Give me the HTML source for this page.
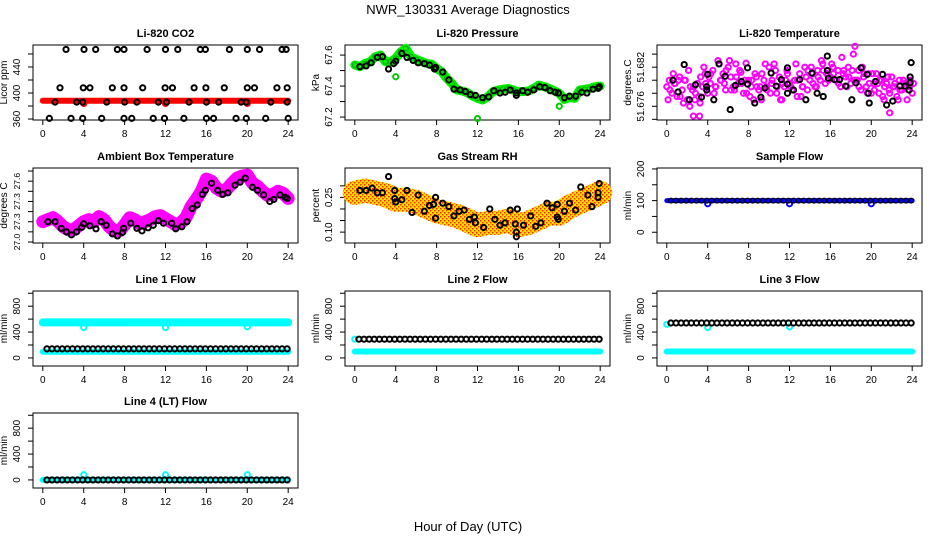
<!DOCTYPE html>
<html><head><meta charset="utf-8"><style>
html,body{margin:0;padding:0;background:#fff;}
svg{display:block;font-family:"Liberation Sans",sans-serif;}
</style></head><body>
<svg id="chart" width="936" height="540" viewBox="0 0 936 540">
<defs>
<pattern id="rhpat" width="4" height="4" patternUnits="userSpaceOnUse">
<rect width="4" height="4" fill="#ffe000"/><rect width="1.5" height="1.5" fill="#ff2000"/><rect x="2" y="2" width="1.5" height="1.5" fill="#ff3000"/>
</pattern>
</defs>
<text x="468" y="14" text-anchor="middle" font-size="13">NWR_130331  Average Diagnostics</text>
<text x="468" y="531" text-anchor="middle" font-size="13">Hour of Day (UTC)</text>
</svg>
<script>
// ---------- data ----------
const xTicks=[0,4,8,12,16,20,24];
// CO2
const co2BandTime=[0,24];
const co2BandVal=[388,388];
const co2RedDipTime=[4,12,20];
const co2RedDipVal=[384,384,384];
const co2BlackTime=[2.27,4.03,5.17,7.29,7.94,10.2,12.0,13.2,15.4,15.9,18.25,20.0,21.2,23.4,23.8,
1.68,3.96,4.61,6.8,7.94,9.77,11.96,12.68,14.8,15.95,17.75,20.0,20.7,22.9,23.9,
1.19,3.31,3.9,6.25,8.0,9.2,11.3,12.1,14.3,16.0,17.2,19.4,19.9,22.3,23.9,
0.64,2.76,3.9,5.76,7.94,8.7,10.8,11.9,13.8,16.0,16.7,18.9,19.9,21.8,24.0];
const co2BlackVal=[467,467,467,467,467,467,467,467,467,467,467,467,467,467,467,
408,408,408,408,408,408,408,408,408,408,408,408,408,408,408,
386,386,386,386,386,386,386,386,386,386,386,386,386,386,386,
361,361,361,361,361,361,361,361,361,361,361,361,361,361,361];
// Pressure
const presGreen=[67.536,67.525,67.546,67.557,67.589,67.600,67.557,67.557,67.579,67.621,67.643,67.589,67.572,67.560,67.546,67.542,67.514,67.492,67.450,67.417,67.374,67.368,67.357,67.336,67.321,67.310,67.331,67.363,67.374,67.380,67.385,67.374,67.363,67.365,67.368,67.385,67.406,67.396,67.385,67.370,67.353,67.314,67.327,67.321,67.374,67.379,67.385,67.396,67.400];
const presOutTime=[4,12,20];
const presOutVal=[67.46,67.19,67.27];
const presBlackTime=[0.5,1.1,1.6,2.2,2.7,3.3,3.8,4.0,4.6,5.1,5.7,6.2,6.8,7.3,7.8,7.9,8.6,9.2,9.7,10.3,10.8,11.3,11.8,12.5,13.1,13.6,14.2,14.7,15.2,15.8,15.8,16.4,16.9,17.5,18.1,18.6,19.1,19.6,19.9,20.5,21.0,21.6,22.2,22.7,23.3,23.8,23.9];
const presBlackVal=[67.525,67.53,67.55,67.585,67.59,67.51,67.545,67.56,67.61,67.585,67.565,67.55,67.545,67.535,67.51,67.52,67.49,67.44,67.38,67.375,67.365,67.345,67.34,67.325,67.33,67.37,67.355,67.36,67.375,67.34,67.355,67.37,67.36,67.375,67.395,67.39,67.37,67.36,67.355,67.325,67.335,67.335,67.36,67.355,67.38,67.385,67.395];
// Li-820 temperature
const tempMagA=[51.6790,51.6800,51.6780,51.6795,51.6775,51.6805,51.6785,51.6800,51.6770,
51.6760,51.6785,51.6770,51.6795,51.6765,51.6790,51.6810,51.6780,
51.6795,51.6815,51.6790,51.6830,51.6800,51.6810,51.6785,51.6820,
51.6805,51.6790,51.6825,51.6795,51.6812,51.6780,51.6826,51.6800,
51.6790,51.6770,51.6805,51.6785,51.6770,51.6800,51.6790,51.6820,
51.6795,51.6825,51.6780,51.6805,51.6770,51.6790,51.6815,51.6795,
51.6785,51.6800,51.6775,51.6810,51.6790,51.6820,51.6785,51.6800,
51.6810,51.6790,51.6815,51.6800,51.6825,51.6795,51.6810,51.6805,
51.6820,51.6800,51.6815,51.6790,51.6810,51.6805,51.6820,51.6795,
51.6840,51.6800,51.6815,51.6785,51.6805,51.6790,51.6810,51.6780,
51.6795,51.6810,51.6780,51.6800,51.6770,51.6795,51.6785,51.6805,
51.6790,51.6775,51.6800,51.6785,51.6795,51.6770,51.6790,51.6780];
const tempMagB=[51.6770,51.6810,51.6800,51.6765,51.6815,51.6790,51.6775,51.6820,51.6805,51.6780,51.6825,51.6795,51.6830,51.6785,51.6815,51.6800,51.6775,51.6810,51.6790,51.6825,51.6780,51.6815,51.6770,51.6800,51.6790,51.6825,51.6775,51.6805,51.6820,51.6790,51.6830,51.6810,51.6825,51.6800,51.6835,51.6790,51.6815,51.6800,51.6820,51.6780,51.6810,51.6795,51.6775,51.6805,51.6790,51.6770,51.6800,51.6785,51.6795];
const tempMagC=[51.6785,51.6795,51.6775,51.6800,51.6790,51.6780,51.6805,51.6795,51.6810,51.6790,51.6800,51.6815,51.6785,51.6805,51.6795,51.6780,51.6800,51.6790,51.6810,51.6785,51.6800,51.6790,51.6795,51.6810,51.6785,51.6800,51.6790,51.6815,51.6795,51.6805,51.6815,51.6800,51.6810,51.6795,51.6815,51.6805,51.6800,51.6790,51.6810,51.6795,51.6785,51.6800,51.6790,51.6780,51.6795,51.6785,51.6790,51.6800];
const tempOutTime=[18.4,2.6,3.2,21.8];
const tempOutVal=[51.6852,51.6745,51.6745,51.6750];
const tempBlackTime=[0.6,1.1,1.7,2.2,2.8,3.4,3.9,3.9,4.0,4.6,5.1,5.7,6.2,6.7,7.3,7.9,7.9,8.6,9.2,9.6,10.2,10.7,11.2,11.8,11.8,11.8,12.4,13.0,13.6,14.2,14.7,15.3,15.7,15.7,15.8,16.4,16.9,17.5,18.1,18.5,19.0,19.6,19.7,19.8,20.4,21.1,21.5,22.1,22.8,23.3,23.7,23.8,23.8,23.9];
const tempBlackVal=[51.680,51.6782,51.6824,51.677,51.6793,51.6774,51.6785,51.679,51.6809,51.677,51.6825,51.6806,51.6755,51.6792,51.6798,51.6819,51.6794,51.6765,51.6774,51.6788,51.6811,51.6791,51.6801,51.6819,51.6794,51.678,51.6785,51.6801,51.677,51.6811,51.678,51.6775,51.6837,51.6815,51.6803,51.6801,51.6801,51.6791,51.677,51.6796,51.6819,51.6809,51.678,51.6765,51.6798,51.6809,51.6762,51.6768,51.6791,51.6791,51.6785,51.6796,51.6805,51.6827];
// Ambient box temperature
const ambMag=[27.20,27.22,27.24,27.20,27.15,27.12,27.12,27.16,27.20,27.22,27.20,27.25,27.22,27.15,27.11,27.11,27.17,27.24,27.22,27.18,27.20,27.22,27.25,27.26,27.23,27.20,27.17,27.19,27.24,27.35,27.42,27.50,27.62,27.60,27.53,27.50,27.52,27.58,27.63,27.65,27.66,27.58,27.55,27.50,27.46,27.47,27.50,27.48,27.43];
const ambBlackTime=[0.5,1.2,1.8,2.3,2.8,3.3,3.8,4.0,4.6,5.2,5.7,6.2,6.8,7.3,7.8,7.9,8.6,9.2,9.7,10.3,10.8,11.3,11.8,12.6,13.0,13.6,14.1,14.6,15.1,15.6,15.9,16.5,17.1,17.6,18.1,18.8,19.3,19.8,20.5,21.0,21.6,22.2,22.6,23.2,23.7,23.9];
const ambBlackVal=[27.20,27.20,27.135,27.10,27.07,27.10,27.145,27.18,27.16,27.13,27.20,27.165,27.08,27.06,27.095,27.135,27.185,27.135,27.11,27.14,27.165,27.21,27.185,27.185,27.13,27.15,27.20,27.33,27.365,27.47,27.51,27.58,27.51,27.47,27.485,27.56,27.59,27.63,27.54,27.51,27.465,27.40,27.42,27.465,27.44,27.43];
// Gas stream RH
const rhBand=[0.27,0.28,0.27,0.26,0.24,0.24,0.23,0.21,0.19,0.18,0.17,0.15,0.13,0.14,0.14,0.15,0.13,0.14,0.16,0.18,0.18,0.21,0.23,0.25,0.27];
const rhBlackTime=[0.5,1.1,1.7,2.2,2.7,3.3,3.9,3.9,4.0,4.6,5.1,5.6,6.2,6.8,7.3,7.7,7.9,7.9,8.6,9.2,9.7,10.2,10.7,11.2,11.7,11.8,12.6,13.2,13.7,14.2,14.7,15.2,15.7,15.8,15.8,15.9,16.5,17.2,17.7,18.2,18.8,19.3,19.8,19.8,19.9,20.5,21.0,21.6,22.1,22.8,23.2,23.8,23.8,23.9];
const rhBlackVal=[0.28,0.28,0.29,0.27,0.27,0.34,0.28,0.245,0.23,0.24,0.28,0.185,0.26,0.19,0.215,0.22,0.25,0.16,0.225,0.21,0.17,0.19,0.195,0.155,0.165,0.14,0.12,0.20,0.155,0.13,0.14,0.195,0.135,0.10,0.08,0.20,0.13,0.17,0.125,0.14,0.225,0.205,0.22,0.165,0.155,0.19,0.225,0.195,0.295,0.26,0.21,0.25,0.27,0.31];
// Sample flow
const sfBandTime=[0,24];
const sfBandVal=[100,100];
const sfDipTime=[4,12,20];
const sfDipVal=[90,90,90];
// Line flows
const l1CyanHi=550, l1CyanLo=95, l1Black=140;
const l1DipTime=[4,12,20];
const l1DipVal=[470,470,480];
const l2Black=290, l2Cyan=100;
const l2CyanStartVal=[290];
const l3Black=540, l3Cyan=100;
const l3CyanOutTime=[0,4,12];
const l3CyanOutVal=[520,470,480];
const l4Black=0, l4Cyan=0;
const l4CyanOutTime=[4,12,20];
const l4CyanOutVal=[80,80,80];

// ---------- layout ----------
const svg=document.getElementById('chart');
const NS='http://www.w3.org/2000/svg';
function mk(tag,attrs,parent){const e=document.createElementNS(NS,tag);for(const k in attrs)e.setAttribute(k,attrs[k]);(parent||svg).appendChild(e);return e;}
const W=265,H=75;
const colX=[33,345,657], rowY=[45,168,291,413];
function panel(name,title,ylab,c,r,ymin,ymax,ticks,labels,labelText,lfs){
  const p={x:colX[c],y:rowY[r],w:W,h:H,ymin:ymin,ymax:ymax};
  const g=mk('g',{});
  
  
  p.g=g;
  const t=mk('text',{x:p.x+W/2,y:p.y-8,'text-anchor':'middle','font-size':11,'font-weight':'bold'},g);
  t.textContent=title;
  
  
  const yt=mk('text',{x:p.x-26,y:p.y+H/2,'text-anchor':'middle','font-size':10,transform:`rotate(-90 ${p.x-26} ${p.y+H/2})`},g);
  yt.textContent=ylab;
  
  
  const fr=mk('rect',{x:p.x,y:p.y,width:W,height:H,fill:'none',stroke:'#000','stroke-width':1},g);
  
  
  xTicks.forEach(h=>{const X=xs(p,h);
    mk('line',{x1:X,x2:X,y1:p.y+H,y2:p.y+H+5,stroke:'#000'},g);
    const tl=mk('text',{x:X,y:p.y+H+17,'text-anchor':'middle','font-size':10},g);
    tl.textContent=h;
    
    
  });
  ticks.forEach(v=>{const Y=ys(p,v);mk('line',{x1:p.x-5,x2:p.x,y1:Y,y2:Y,stroke:'#000'},g);});
  labels.forEach((v,i)=>{const Y=ys(p,v),X=p.x-13;
    const tl=mk('text',{x:X,y:Y,'text-anchor':'middle','font-size':lfs||10,transform:`rotate(-90 ${X} ${Y})`},g);
    tl.textContent=labelText[i];
    
    
  });
  const clip=mk('g',{},g);
  p.pg=clip;
  return p;
}
function xs(p,h){return p.x+(h+0.96)/25.92*p.w;}
function ys(p,v){return p.y+p.h-(v-p.ymin)/(p.ymax-p.ymin)*p.h;}
function band(p,times,vals,color,width,name){
  const pts=times.map((t,i)=>xs(p,t).toFixed(1)+','+ys(p,vals[i]).toFixed(1)).join(' ');
  const l=mk('polyline',{points:pts,fill:'none',stroke:color,'stroke-width':width,'stroke-linejoin':'round','stroke-linecap':'round'},p.pg);
  
  
}
function pts(p,times,vals,color,name,r,sw){
  times.forEach((t,i)=>{
    const c=mk('circle',{cx:xs(p,t),cy:ys(p,vals[i]),r:r||2.6,fill:'none',stroke:color,'stroke-width':sw||2},p.pg);
    
    
  });
}
const half=[];for(let i=0;i<=48;i++)half.push(i*0.5);
const blackHalf=[];for(let i=1;i<=48;i++)blackHalf.push(i*0.5-0.1);
function constArr(n,v){return new Array(n).fill(v);}

// CO2
let p=panel('co2','Li-820 CO2','Licor ppm',0,0,358.5,473.8,[360,380,400,420,440,460],[360,400,440],['360','400','440']);
band(p,co2BandTime,co2BandVal,'#ff0000',6,'co2-red-band');
pts(p,co2RedDipTime,co2RedDipVal,'#ff0000','co2-red-point');
pts(p,co2BlackTime,co2BlackVal,'#000','co2-black-point');
// Pressure
p=panel('pressure','Li-820 Pressure','kPa',1,0,67.181,67.665,[67.2,67.3,67.4,67.5,67.6],[67.2,67.4,67.6],['67.2','67.4','67.6']);
band(p,half,presGreen,'#00ee00',9,'pressure-green-band');
pts(p,half,presGreen,'#009900','pressure-green-point',2.4,0.8);
pts(p,presOutTime,presOutVal,'#00cc00','pressure-green-outlier');
pts(p,presBlackTime,presBlackVal,'#000','pressure-black-point');
// Temperature
p=panel('li820-temp','Li-820 Temperature','degrees.C',2,0,51.6739,51.6854,[51.674,51.676,51.678,51.680,51.682,51.684],[51.676,51.682],['51.676','51.682']);
const tA=tempMagA.map((v,i)=>i*0.25), tB=tempMagB.map((v,i)=>i*0.5+0.125), tC=tempMagC.map((v,i)=>i*0.5+0.3);
pts(p,tA,tempMagA,'#ff00ff','temp-magenta-point');
pts(p,tB,tempMagB,'#ff00ff','temp-magenta-point');
pts(p,tC,tempMagC,'#ff00ff','temp-magenta-point');
pts(p,tempOutTime,tempOutVal,'#ff00ff','temp-magenta-outlier');
pts(p,tempBlackTime,tempBlackVal,'#000','temp-black-point');
// Ambient
p=panel('ambient-temp','Ambient Box Temperature','degrees C',0,1,26.99,27.73,[27.0,27.1,27.2,27.3,27.4,27.5,27.6,27.7],[27.0,27.2,27.4,27.6],['27.0','27.3','27.3','27.6'],8.5);
band(p,half,ambMag,'#ff00ff',13,'ambient-magenta-band');
pts(p,ambBlackTime,ambBlackVal,'#000','ambient-black-point');
// RH
p=panel('rh','Gas Stream RH','percent',1,1,0.053,0.377,[0.10,0.15,0.20,0.25,0.30],[0.10,0.25],['0.10','0.25']);
const hours=rhBand.map((v,i)=>i);
band(p,hours,rhBand,'url(#rhpat)',24,'rh-orange-band');
pts(p,rhBlackTime,rhBlackVal,'#000','rh-black-point');
// Sample flow
p=panel('sample-flow','Sample Flow','ml/min',2,1,-34,203,[0,50,100,150,200],[0,100,200],['0','100','200']);
band(p,sfBandTime,sfBandVal,'#0000ff',5,'sample-flow-blue-band');
pts(p,sfDipTime,sfDipVal,'#0000ff','sample-flow-blue-point');
pts(p,blackHalf,constArr(48,100),'#000','sample-flow-black-point',2.4,1.2);
// Line flows
const fT=[0,200,400,600,800,1000],fL=[0,400,800],fLT=['0','400','800'];
p=panel('line1-flow','Line 1 Flow','ml/min',0,2,-125,1035,fT,fL,fLT);
band(p,[0,24],[l1CyanHi,l1CyanHi],'#00ffff',8,'line1-cyan-band');
band(p,[0,24],[l1CyanLo,l1CyanLo],'#00ffff',6,'line1-cyan-low-band');
pts(p,l1DipTime,l1DipVal,'#00ffff','line1-cyan-point');
pts(p,blackHalf,constArr(48,l1Black),'#000','line1-black-point');
p=panel('line2-flow','Line 2 Flow','ml/min',1,2,-125,1035,fT,fL,fLT);
band(p,[0,24],[l2Cyan,l2Cyan],'#00ffff',6,'line2-cyan-band');
pts(p,[0],l2CyanStartVal,'#00ffff','line2-cyan-point');
pts(p,blackHalf,constArr(48,l2Black),'#000','line2-black-point');
p=panel('line3-flow','Line 3 Flow','ml/min',2,2,-125,1035,fT,fL,fLT);
band(p,[0,24],[l3Cyan,l3Cyan],'#00ffff',6,'line3-cyan-band');
pts(p,l3CyanOutTime,l3CyanOutVal,'#00ffff','line3-cyan-point');
pts(p,blackHalf,constArr(48,l3Black),'#000','line3-black-point');
p=panel('line4-flow','Line 4 (LT) Flow','ml/min',0,3,-125,1035,fT,fL,fLT);
band(p,[0,24],[l4Cyan,l4Cyan],'#00ffff',6,'line4-cyan-band');
pts(p,l4CyanOutTime,l4CyanOutVal,'#00ffff','line4-cyan-point');
pts(p,blackHalf,constArr(48,l4Black),'#000','line4-black-point');
</script>
</body></html>
